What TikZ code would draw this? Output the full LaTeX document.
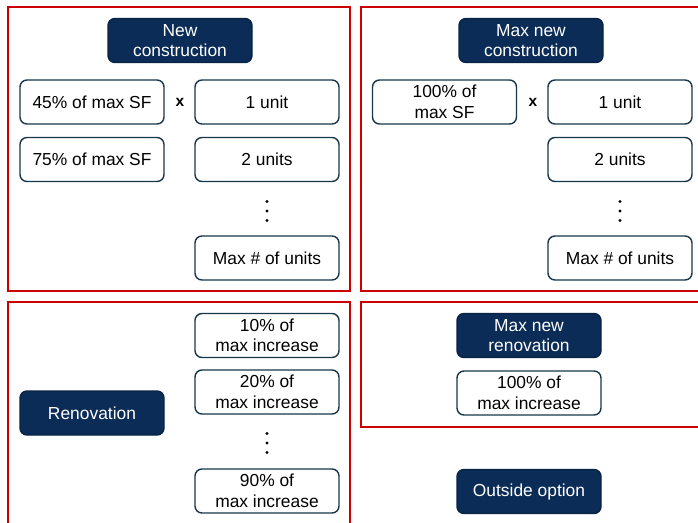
\documentclass[tikz,border=0pt]{standalone}
\usepackage{fontspec}
\setmainfont{Liberation Sans}
\definecolor{navy}{HTML}{0B2C56}
\definecolor{edgeblue}{HTML}{17364A}
\definecolor{framered}{HTML}{CC0000}
\begin{document}
\begin{tikzpicture}[x=1pt,y=-1pt,
  box/.style={draw=edgeblue, line width=1.4pt, rounded corners=7pt,
    minimum width=144pt, minimum height=44pt, inner sep=0pt, align=center,
    font=\fontsize{17.4}{20.5}\selectfont, text=black, fill=white},
  headbox/.style={box, fill=navy, draw=navy!80!black, text=white},
  frame/.style={draw=framered, line width=2pt},
  times/.style={font=\fontsize{15.5}{16}\bfseries\selectfont},
  ellip/.pic={\foreach \dy in {-9.5,0,9.5} \fill (0,\dy) circle (1.6);}]
\clip (0,0) rectangle (698,522);

% frames around the option groups
\draw[frame] (8,7) rectangle (350,291);
\draw[frame] (361,7) rectangle (710,291);
\draw[frame] (8,302) rectangle (350,530);
\draw[frame] (361,302) rectangle (710,427);

% new construction
\node[headbox] (nc) at (180,40.5) {New\\construction};
\node[box] (s45) at (92,102) {45\% of max SF};
\node[box] (s75) at (92,159.5) {75\% of max SF};
\node[times] (x1) at (180,102) {x};
\node[box] (u1) at (267,102) {1 unit};
\node[box] (u2) at (267,159.5) {2 units};
\pic (d1) at (267,211) {ellip};
\node[box] (um) at (267,258) {Max \# of units};

% max new construction
\node[headbox] (mnc) at (531,40.5) {Max new\\construction};
\node[box] (s100) at (444.5,102) {100\% of\\max SF};
\node[times] (x2) at (533,102) {x};
\node[box] (v1) at (620,102) {1 unit};
\node[box] (v2) at (620,159.5) {2 units};
\pic (d2) at (620,211) {ellip};
\node[box] (vm) at (620,258) {Max \# of units};

% renovation
\node[headbox] (ren) at (92,413) {Renovation};
\node[box] (r10) at (267,335.5) {10\% of\\max increase};
\node[box] (r20) at (267,392) {20\% of\\max increase};
\pic (d3) at (267,443) {ellip};
\node[box] (r90) at (267,491) {90\% of\\max increase};

% max new renovation
\node[headbox] (mnr) at (529,335.5) {Max new\\renovation};
\node[box] (r100) at (529,393) {100\% of\\max increase};

% outside option
\node[headbox] (out) at (529,491.5) {Outside option};
\end{tikzpicture}
\end{document}
